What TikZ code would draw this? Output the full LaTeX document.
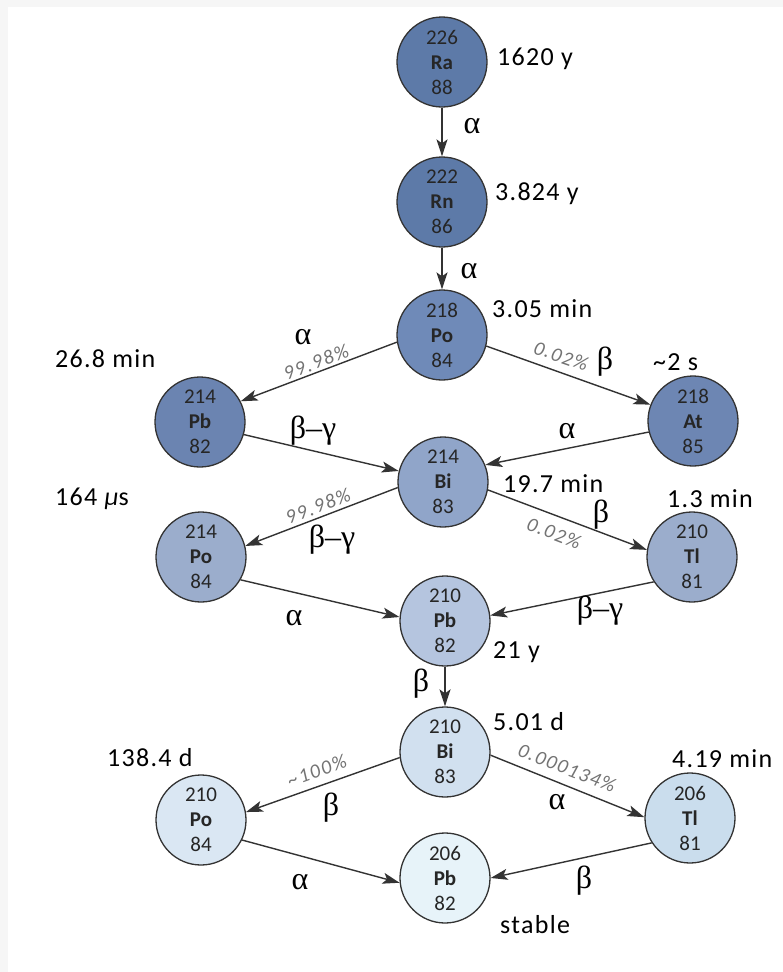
\documentclass[tikz,border=0pt]{standalone}
\usepackage{fontspec}
\setmainfont{Carlito}
\newfontfamily\greekfont{Liberation Serif}
\newfontfamily\timefont[LetterSpace=5]{Carlito}
\newfontfamily\pctfont[LetterSpace=8]{Carlito}
\usetikzlibrary{arrows.meta}

% fill colours, darkest (top of the chain) to lightest (stable end)
\definecolor{cRa}{HTML}{5D7AA8}
\definecolor{cPoA}{HTML}{6F8AB8}
\definecolor{cPbA}{HTML}{6B84B1}
\definecolor{cAt}{HTML}{6D86B3}
\definecolor{cBiA}{HTML}{90A5C9}
\definecolor{cPoB}{HTML}{9BADCC}
\definecolor{cTlA}{HTML}{9BADCC}
\definecolor{cPbB}{HTML}{B5C5DF}
\definecolor{cBiB}{HTML}{D1E0EF}
\definecolor{cPoC}{HTML}{DAE7F3}
\definecolor{cPbC}{HTML}{E7F3F9}
\definecolor{cTlB}{HTML}{CADDED}
\definecolor{edge}{HTML}{333333}
\definecolor{frame}{HTML}{F6F6F6}

\begin{document}
\begin{tikzpicture}[x=1pt,y=-1pt,
  nuclide/.style={circle, draw=edge, line width=1.3pt, minimum size=90pt,
    inner sep=0pt, align=center, text=black!85,
    font=\fontsize{21}{25}\selectfont},
  decay/.style={draw=edge, line width=1.4pt,
    -{Stealth[length=17pt,width=11pt,inset=4pt]}},
  halflife/.style={anchor=base west, inner sep=0pt,
    font=\timefont\fontsize{26}{26}\selectfont},
  mode/.style={inner sep=0pt, font=\greekfont\fontsize{32}{32}\selectfont},
  branch/.style={inner sep=0pt, text=black!55,
    font=\pctfont\itshape\fontsize{20}{20}\selectfont},
]
\useasboundingbox (0,0) rectangle (783,972);
\fill[frame] (0,0) rectangle (783,972);
\fill[white] (8,7) rectangle (783,972);

% nuclides
\node[nuclide, fill=cRa]  (ra226) at (442,62)  {226\\\textbf{Ra}\\88};
\node[nuclide, fill=cRa]  (rn222) at (442,202) {222\\\textbf{Rn}\\86};
\node[nuclide, fill=cPoA] (po218) at (442,335) {218\\\textbf{Po}\\84};
\node[nuclide, fill=cPbA] (pb214) at (200,422) {214\\\textbf{Pb}\\82};
\node[nuclide, fill=cAt]  (at218) at (693,421) {218\\\textbf{At}\\85};
\node[nuclide, fill=cBiA] (bi214) at (443,482) {214\\\textbf{Bi}\\83};
\node[nuclide, fill=cPoB] (po214) at (201,557) {214\\\textbf{Po}\\84};
\node[nuclide, fill=cTlA] (tl210) at (692,557) {210\\\textbf{Tl}\\81};
\node[nuclide, fill=cPbB] (pb210) at (445,621) {210\\\textbf{Pb}\\82};
\node[nuclide, fill=cBiB] (bi210) at (445,752) {210\\\textbf{Bi}\\83};
\node[nuclide, fill=cPoC] (po210) at (201,820) {210\\\textbf{Po}\\84};
\node[nuclide, fill=cPbC] (pb206) at (445,878) {206\\\textbf{Pb}\\82};
\node[nuclide, fill=cTlB] (tl206) at (690,818) {206\\\textbf{Tl}\\81};

% decays
\draw[decay] (ra226) -- (rn222);
\draw[decay] (rn222) -- (po218);
\draw[decay] (po218.-171) -- (pb214.27);
\draw[decay] (po218.-14) -- (at218.159);
\draw[decay] (pb214.-16) -- (bi214.166);
\draw[decay] (at218.-166) -- (bi214.22);
\draw[decay] (bi214.-173) -- (po214.14);
\draw[decay] (bi214.-10) -- (tl210.171);
\draw[decay] (po214.-30) -- (pb210.175);
\draw[decay] (tl210.-147) -- (pb210.7);
\draw[decay] (pb210) -- (bi210);
\draw[decay] (bi210.-173) -- (po210.10);
\draw[decay] (bi210.-4) -- (tl206.179);
\draw[decay] (po210.-26) -- (pb206.-174);
\draw[decay] (tl206.-147) -- (pb206.0);

% decay modes
\node[mode] (m1)  at (472,126) {α};
\node[mode] (m2)  at (469,271) {α};
\node[mode] (m3)  at (303,337) {α};
\node[mode] (m4)  at (605,362) {β};
\node[mode] (m5)  at (313,431) {β–γ};
\node[mode] (m6)  at (567,431) {α};
\node[mode] (m7)  at (332,540) {β–γ};
\node[mode] (m8)  at (601,515) {β};
\node[mode] (m9)  at (294,618) {α};
\node[mode] (m10) at (600,611) {β–γ};
\node[mode] (m11) at (421,684) {β};
\node[mode] (m12) at (331,808) {β};
\node[mode] (m13) at (557,802) {α};
\node[mode] (m14) at (300,882) {α};
\node[mode] (m15) at (584,881) {β};

% branching ratios
\node[branch, rotate=20.6]  (b1) at (316,362) {99.98\%};
\node[branch, rotate=-19.3] (b2) at (561,356) {0.02\%};
\node[branch, rotate=21]    (b3) at (318,506) {99.98\%};
\node[branch, rotate=-21]   (b4) at (554,533) {0.02\%};
\node[branch, rotate=20]    (b5) at (317,771) {\textasciitilde100\%};
\node[branch, rotate=-21.5] (b6) at (567,768) {0.000134\%};

% half-lives
\node[halflife] (t1)  at (497,65)  {1620 y};
\node[halflife] (t2)  at (495,200) {3.824 y};
\node[halflife] (t3)  at (492,317) {3.05 min};
\node[halflife] (t4)  at (55,367)  {26.8 min};
\node[halflife] (t5)  at (653,370) {\textasciitilde2 s};
\node[halflife] (t6)  at (503,492) {19.7 min};
\node[halflife] (t7)  at (667,507) {1.3 min};
\node[halflife] (t8)  at (55,505)  {164 {\itshape μ}s};
\node[halflife] (t9)  at (493,658) {21 y};
\node[halflife] (t10) at (493,730) {5.01 d};
\node[halflife] (t11) at (107,766) {138.4 d};
\node[halflife] (t12) at (672,767) {4.19 min};
\node[halflife] (t13) at (500,933) {stable};
\end{tikzpicture}
\end{document}
